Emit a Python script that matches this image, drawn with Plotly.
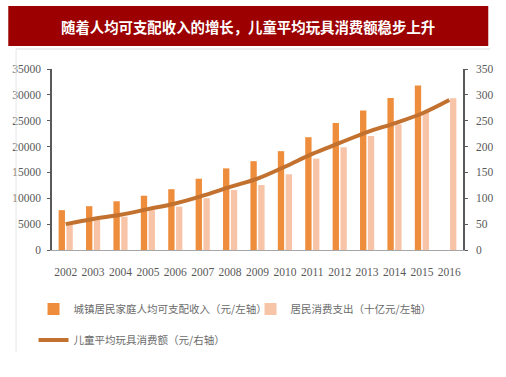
import plotly.graph_objects as go

years = [str(y) for y in range(2002, 2017)]
income = [7703, 8472, 9422, 10493, 11759, 13786, 15781, 17175, 19109, 21810, 24565, 26955, 29381, 31790, None]
consumption = [4850, 5800, 6440, 7700, 8380, 10000, 11600, 12570, 14640, 17660, 19860, 22050, 24300, 26750, 29340]
toy = [50, 60, 68, 79, 90, 105, 122, 138, 161, 186, 207, 228, 245, 264, 290]

left_ticks = list(range(0, 35001, 5000))
right_ticks = list(range(0, 351, 50))

W, H = 506, 377
L, R, T, B = 49, 34, 69, 127
pw, ph = W - L - R, H - T - B

def px(x):
    return (x - L) / pw

def py(y):
    return (H - B - y) / ph

fig = go.Figure()
fig.add_trace(go.Bar(x=years, y=income, name="城镇居民家庭人均可支配收入（元/左轴）",
                     marker=dict(color="#EE8D3B", line=dict(width=0)), legend="legend"))
fig.add_trace(go.Bar(x=years, y=consumption, name="居民消费支出（十亿元/左轴）",
                     marker=dict(color="#F8C4A7", line=dict(width=0)), legend="legend"))
fig.add_trace(go.Scatter(x=years, y=toy, name="儿童平均玩具消费额（元/右轴）", yaxis="y2",
                         mode="lines", line=dict(color="#C2712F", width=4, shape="spline"),
                         legend="legend2"))

tickfont = dict(family="Liberation Serif", size=11.5, color="#595959")
legfont = dict(family="Noto Sans CJK SC", size=10.5, color="#6b6b6b")

fig.update_layout(
    width=W, height=H,
    margin=dict(l=L, r=R, t=T, b=B),
    paper_bgcolor="white", plot_bgcolor="white",
    barmode="group", bargap=0.43, bargroupgap=0.19,
    showlegend=True,
    xaxis=dict(type="category", range=[-0.5, 14.5], showgrid=False, showline=True,
               linecolor="#a6a6a6", linewidth=1, ticks="", tickfont=tickfont, ticklabelstandoff=11),
    yaxis=dict(range=[0, 35000], tickvals=left_ticks, tickformat="d", showgrid=False, zeroline=False,
               showline=True, linecolor="#595959", linewidth=1.5, ticks="outside",
               ticklen=3, tickcolor="#595959", tickfont=tickfont, ticklabelstandoff=4),
    yaxis2=dict(range=[0, 350], tickvals=right_ticks, tickformat="d", overlaying="y", side="right",
                showgrid=False, zeroline=False, showline=True, linecolor="#595959",
                linewidth=1.5, ticks="outside", ticklen=3, tickcolor="#595959",
                tickfont=tickfont, ticklabelstandoff=6),
    legend=dict(orientation="h", x=px(30), y=py(309), xanchor="left", yanchor="middle",
                font=legfont, entrywidth=172, entrywidthmode="pixels",
                bgcolor="rgba(0,0,0,0)", traceorder="normal"),
    legend2=dict(orientation="h", x=px(30), y=py(340), xanchor="left", yanchor="middle",
                 font=legfont, bgcolor="rgba(0,0,0,0)"),
    shapes=[
        dict(type="line", xref="paper", yref="paper", x0=px(12), x1=px(500), y0=py(49), y1=py(49),
             line=dict(color="#dcdcdc", width=1)),
        dict(type="line", xref="paper", yref="paper", x0=px(12), x1=px(12), y0=py(49), y1=py(352),
             line=dict(color="#e6e6e6", width=1)),
        dict(type="rect", xref="paper", yref="paper", x0=px(4), x1=px(498), y0=py(46), y1=py(6),
             fillcolor="#9C0000", line=dict(width=0), layer="above"),
    ],
    annotations=[
        dict(text="<b>随着人均可支配收入的增长，儿童平均玩具消费额稳步上升</b>", xref="paper", yref="paper",
             x=px(251), y=py(26), xanchor="center", yanchor="middle", showarrow=False,
             font=dict(family="Noto Sans CJK SC", size=14.4, color="white")),
    ],
)

fig.write_html("out.html", config={"displayModeBar": False},
               post_script="document.body.style.margin='0';document.body.style.overflow='hidden';")
